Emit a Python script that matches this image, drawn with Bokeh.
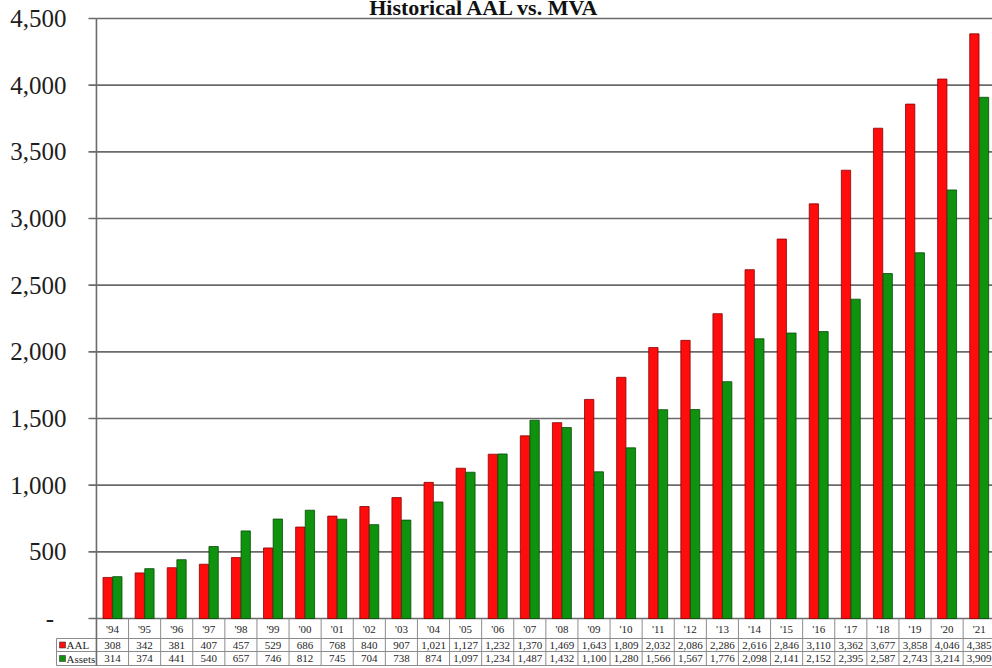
import numpy as np
from bokeh.plotting import figure
from bokeh.models import Range1d
from bokeh.core.properties import value
from bokeh.embed import file_html
from bokeh.resources import INLINE

years = ["'94", "'95", "'96", "'97", "'98", "'99", "'00", "'01", "'02", "'03",
         "'04", "'05", "'06", "'07", "'08", "'09", "'10", "'11", "'12", "'13",
         "'14", "'15", "'16", "'17", "'18", "'19", "'20", "'21"]
aal = [308, 342, 381, 407, 457, 529, 686, 768, 840, 907,
       1021, 1127, 1232, 1370, 1469, 1643, 1809, 2032, 2086, 2286,
       2616, 2846, 3110, 3362, 3677, 3858, 4046, 4385]
assets = [314, 374, 441, 540, 657, 746, 812, 745, 704, 738,
          874, 1097, 1234, 1487, 1432, 1100, 1280, 1566, 1567, 1776,
          2098, 2141, 2152, 2395, 2587, 2743, 3214, 3909]
series_names = ["AAL", "Assets"]
y_ticks = [0, 500, 1000, 1500, 2000, 2500, 3000, 3500, 4000, 4500]
y_tick_labels = ["-\u2007", "500", "1,000", "1,500", "2,000", "2,500",
                 "3,000", "3,500", "4,000", "4,500"]
title_text = "Historical AAL vs. MVA"

RED = "#ff0d0d"
GREEN = "#0f930f"
SERIF = value("Liberation Serif")
TXT = "#1e1e1e"
GRID = "#6b6b6b"

W, H = 992, 668
PX_X = 32.1          # px per category
X0_PX = 112          # page x of first category
PX_Y = 600 / 4500.0  # px per unit
Y0_PX = 618          # page y of zero

def ux(px):
    return (px - X0_PX) / PX_X

def uy(px):
    return (Y0_PX - px) / PX_Y

p = figure(width=W, height=H, output_backend="svg", toolbar_location=None,
           x_range=Range1d(ux(0), ux(W)), y_range=Range1d(uy(H), uy(0)),
           x_axis_location=None, y_axis_location=None,
           min_border_left=0, min_border_right=0, min_border_top=0, min_border_bottom=0)
p.grid.visible = False
p.outline_line_color = None
p.background_fill_color = "white"
p.border_fill_color = "white"

n = len(years)
idx = np.arange(n)
AX = -0.5
XR = ux(W) + 1

# gridlines from the axis to the right
p.segment(x0=[AX] * len(y_ticks), x1=[XR] * len(y_ticks), y0=y_ticks, y1=y_ticks,
          line_color=GRID, line_width=1.6)

# bars
p.vbar(x=idx - 0.15, top=aal, width=0.29, bottom=0, fill_color=RED,
       line_color="#8a0000", line_width=0.8)
p.vbar(x=idx + 0.15, top=assets, width=0.29, bottom=0, fill_color=GREEN,
       line_color="#064a06", line_width=0.8)

# table rows
r1, r2, r3 = uy(638), uy(651), uy(665)
tbl_col = "#8c8c8c"
xs_v = list(idx + 0.5)
p.segment(x0=xs_v, x1=xs_v, y0=[0] * n, y1=[r3] * n, line_color=tbl_col, line_width=1)
xl = ux(56)
p.segment(x0=[xl] * 3, x1=[XR] * 3, y0=[r1, r2, r3], y1=[r1, r2, r3],
          line_color=tbl_col, line_width=1)
p.segment(x0=[xl], x1=[xl], y0=[r1], y1=[r3], line_color=tbl_col, line_width=1)

# y axis line and ticks
p.segment(x0=[AX], x1=[AX], y0=[y_ticks[-1]], y1=[r3], line_color=GRID, line_width=1.6)
p.segment(x0=[ux(88)] * len(y_ticks), x1=[AX] * len(y_ticks), y0=y_ticks, y1=y_ticks,
          line_color=GRID, line_width=1.6)
p.text(x=[ux(66)] * len(y_ticks), y=y_ticks, text=y_tick_labels, text_align="right",
       text_baseline="middle", text_font=SERIF, text_font_size="25px", text_color=TXT)

# table texts
p.text(x=idx, y=[(0 + r1) / 2] * n, text=years, text_align="center", text_baseline="middle",
       text_font=SERIF, text_font_size="11px", text_color=TXT)
p.text(x=idx, y=[(r1 + r2) / 2] * n, text=[f"{v:,}" for v in aal], text_align="center",
       text_baseline="middle", text_font=SERIF, text_font_size="11px", text_color=TXT)
p.text(x=idx, y=[(r2 + r3) / 2] * n, text=[f"{v:,}" for v in assets], text_align="center",
       text_baseline="middle", text_font=SERIF, text_font_size="11px", text_color=TXT)

# row headers
p.scatter(x=[ux(62)] * 2, y=[(r1 + r2) / 2, (r2 + r3) / 2], marker="square", size=6,
          fill_color=[RED, GREEN], line_color="#333333", line_width=0.6)
p.text(x=[ux(66)] * 2, y=[(r1 + r2) / 2, (r2 + r3) / 2], text=series_names,
       text_align="left", text_baseline="middle", text_font=SERIF, text_font_size="11px",
       text_color=TXT)

# title
p.text(x=[ux(484)], y=[uy(6.5)], text=[title_text], text_align="center",
       text_baseline="alphabetic", text_font=SERIF, text_font_style="bold",
       text_font_size="22px", text_color="#111111")

open("out.html", "w").write(file_html(p, INLINE))
